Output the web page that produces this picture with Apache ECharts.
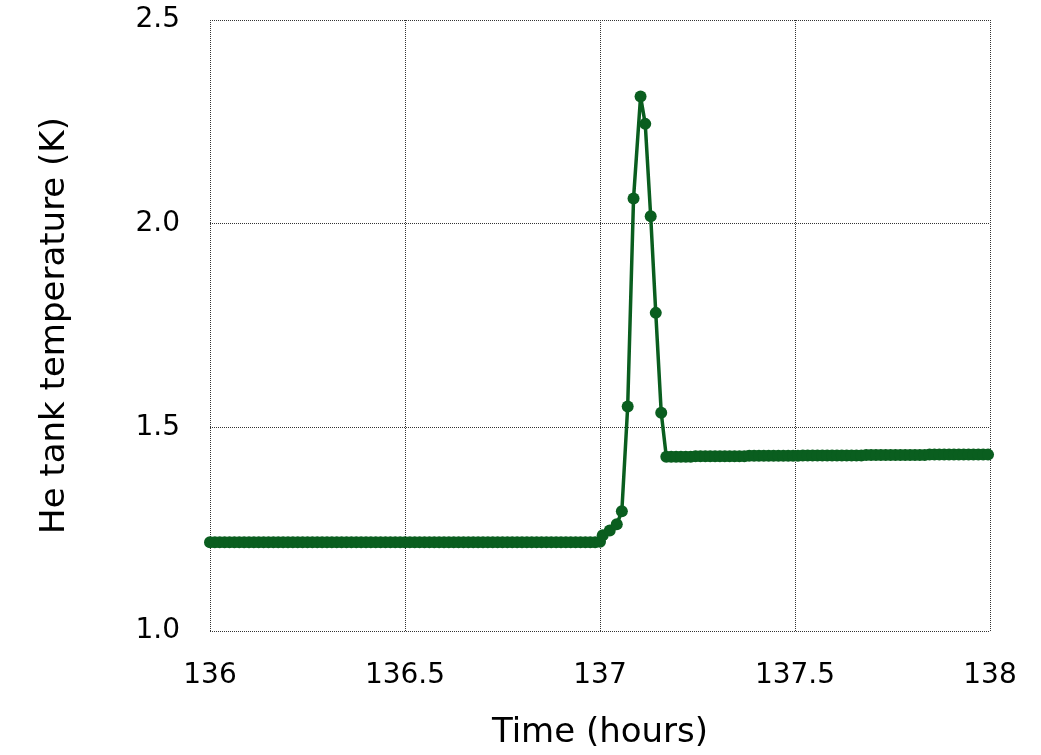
<!DOCTYPE html>
<html>
<head>
<meta charset="utf-8">
<script src="https://cdn.jsdelivr.net/npm/echarts@6/dist/echarts.min.js"></script>
<style>
  html, body { margin: 0; padding: 0; background: #fff; }
  #chart { width: 1041px; height: 755px; }
</style>
</head>
<body>
<div id="chart"></div>
<script>
// time in hours, temperature in K
var baseTimes = [
  136.0000, 136.0125, 136.0250, 136.0375, 136.0500, 136.0625, 136.0750, 136.0875,
  136.1000, 136.1125, 136.1250, 136.1375, 136.1500, 136.1625, 136.1750, 136.1875,
  136.2000, 136.2125, 136.2250, 136.2375, 136.2500, 136.2625, 136.2750, 136.2875,
  136.3000, 136.3125, 136.3250, 136.3375, 136.3500, 136.3625, 136.3750, 136.3875,
  136.4000, 136.4125, 136.4250, 136.4375, 136.4500, 136.4625, 136.4750, 136.4875,
  136.5000, 136.5125, 136.5250, 136.5375, 136.5500, 136.5625, 136.5750, 136.5875,
  136.6000, 136.6125, 136.6250, 136.6375, 136.6500, 136.6625, 136.6750, 136.6875,
  136.7000, 136.7125, 136.7250, 136.7375, 136.7500, 136.7625, 136.7750, 136.7875,
  136.8000, 136.8125, 136.8250, 136.8375, 136.8500, 136.8625, 136.8750, 136.8875,
  136.9000, 136.9125, 136.9250, 136.9375, 136.9500, 136.9625, 136.9750, 136.9875,
  137.0000
];
var baseTemps = [
  1.218, 1.218, 1.218, 1.218, 1.218, 1.218, 1.218, 1.218,
  1.218, 1.218, 1.218, 1.218, 1.218, 1.218, 1.218, 1.218,
  1.218, 1.218, 1.218, 1.218, 1.218, 1.218, 1.218, 1.218,
  1.218, 1.218, 1.218, 1.218, 1.218, 1.218, 1.218, 1.218,
  1.218, 1.218, 1.218, 1.218, 1.218, 1.218, 1.218, 1.218,
  1.218, 1.218, 1.218, 1.218, 1.218, 1.218, 1.218, 1.218,
  1.218, 1.218, 1.218, 1.218, 1.218, 1.218, 1.218, 1.218,
  1.218, 1.218, 1.218, 1.218, 1.218, 1.218, 1.218, 1.218,
  1.218, 1.218, 1.218, 1.218, 1.218, 1.218, 1.218, 1.218,
  1.218, 1.218, 1.218, 1.218, 1.218, 1.218, 1.218, 1.218,
  1.219
];

var peakTimes = [137.007, 137.025, 137.043, 137.056, 137.071, 137.086, 137.104,
                 137.116, 137.130, 137.143, 137.157];
var peakTemps = [1.235, 1.247, 1.262, 1.294, 1.551, 2.062, 2.312,
                 2.245, 2.018, 1.781, 1.536];

var afterTimes = [
  137.1700, 137.1825, 137.1950, 137.2075, 137.2200, 137.2325, 137.2450, 137.2575,
  137.2700, 137.2825, 137.2950, 137.3075, 137.3200, 137.3325, 137.3450, 137.3575,
  137.3700, 137.3825, 137.3950, 137.4075, 137.4200, 137.4325, 137.4450, 137.4575,
  137.4700, 137.4825, 137.4950, 137.5075, 137.5200, 137.5325, 137.5450, 137.5575,
  137.5700, 137.5825, 137.5950, 137.6075, 137.6200, 137.6325, 137.6450, 137.6575,
  137.6700, 137.6825, 137.6950, 137.7075, 137.7200, 137.7325, 137.7450, 137.7575,
  137.7700, 137.7825, 137.7950, 137.8075, 137.8200, 137.8325, 137.8450, 137.8575,
  137.8700, 137.8825, 137.8950, 137.9075, 137.9200, 137.9325, 137.9450, 137.9575,
  137.9700, 137.9825, 137.9950
];
var afterTemps = [
  1.428, 1.428, 1.428, 1.428, 1.428, 1.428, 1.429, 1.429,
  1.429, 1.429, 1.429, 1.429, 1.429, 1.429, 1.429, 1.429,
  1.429, 1.430, 1.430, 1.430, 1.430, 1.430, 1.430, 1.430,
  1.430, 1.430, 1.430, 1.430, 1.431, 1.431, 1.431, 1.431,
  1.431, 1.431, 1.431, 1.431, 1.431, 1.431, 1.431, 1.431,
  1.431, 1.432, 1.432, 1.432, 1.432, 1.432, 1.432, 1.432,
  1.432, 1.432, 1.432, 1.432, 1.432, 1.432, 1.433, 1.433,
  1.433, 1.433, 1.433, 1.433, 1.433, 1.433, 1.433, 1.433,
  1.433, 1.433, 1.433
];

var xTicks = [136, 136.5, 137, 137.5, 138];
var yTicks = [1.0, 1.5, 2.0, 2.5];

var allTimes = baseTimes.concat(peakTimes, afterTimes);
var allTemps = baseTemps.concat(peakTemps, afterTemps);
var seriesData = allTimes.map(function (t, i) { return [t, allTemps[i]]; });

var green = '#0a5e1f';
var labelFont = 'DejaVu Sans';

var chart = echarts.init(document.getElementById('chart'));

chart.setOption({
  animation: false,
  backgroundColor: '#fff',
  grid: { left: 210, right: 51, top: 20, bottom: 122, containLabel: false },
  xAxis: {
    type: 'value',
    min: xTicks[0],
    max: xTicks[xTicks.length - 1],
    interval: 0.5,
    name: 'Time (hours)',
    nameLocation: 'middle',
    nameGap: 85,
    nameTextStyle: { fontFamily: labelFont, fontSize: 34, color: '#000' },
    axisLine: { show: false },
    axisTick: { show: false },
    axisLabel: {
      fontFamily: labelFont, fontSize: 28, color: '#000', margin: 31,
      formatter: function (v) { return String(v); }
    },
    splitLine: { show: true, lineStyle: { type: 'dotted', color: '#333', width: 1 } }
  },
  yAxis: {
    type: 'value',
    min: yTicks[0],
    max: yTicks[yTicks.length - 1],
    interval: 0.5,
    name: 'He tank temperature (K)',
    nameLocation: 'middle',
    nameGap: 138,
    nameTextStyle: { fontFamily: labelFont, fontSize: 34, color: '#000' },
    axisLine: { show: false },
    axisTick: { show: false },
    axisLabel: {
      fontFamily: labelFont, fontSize: 28, color: '#000', margin: 30,
      formatter: function (v) { return v.toFixed(1); }
    },
    splitLine: { show: true, lineStyle: { type: 'dotted', color: '#333', width: 1 } }
  },
  series: [
    {
      name: 'He tank',
      type: 'line',
      data: seriesData,
      symbol: 'circle',
      symbolSize: 12,
      showAllSymbol: true,
      lineStyle: { color: green, width: 3.5 },
      itemStyle: { color: green }
    }
  ]
});
</script>
</body>
</html>
